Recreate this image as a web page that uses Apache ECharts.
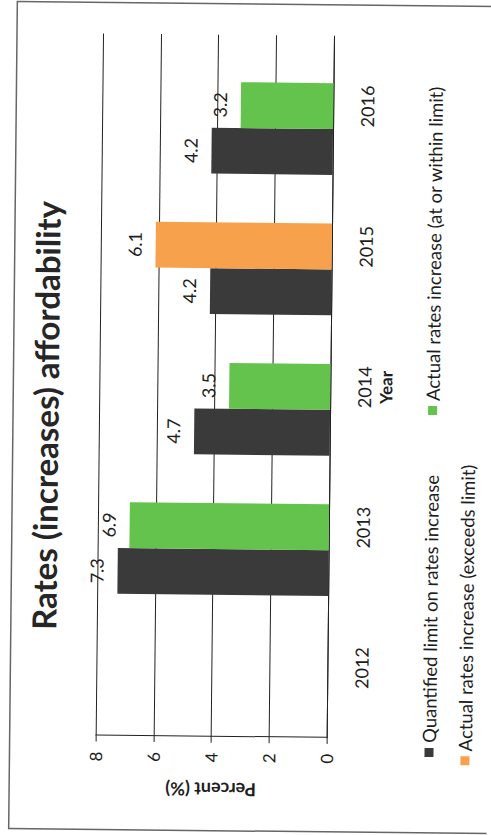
<!DOCTYPE html>
<html>
<head>
<meta charset="utf-8">
<script src="https://cdn.jsdelivr.net/npm/echarts@6/dist/echarts.min.js"></script>
<style>
  html, body { margin: 0; padding: 0; width: 491px; height: 835px; overflow: hidden; background: #fff; }
  /* The chart is laid out landscape (835 x 491) and turned to portrait. */
  #chart {
    position: absolute;
    width: 835px; height: 491px;
    left: -172px; top: 172px;
    transform-origin: 50% 50%;
    transform: rotate(-89.4deg);
  }
</style>
</head>
<body>
<div id="chart"></div>
<script>
const years = ['2012', '2013', '2014', '2015', '2016'];
const quantifiedLimit = [null, 7.3, 4.7, 4.2, 4.2];
const withinLimit = [null, 6.9, 3.5, null, 3.2];
const exceedsLimit = [null, null, null, 6.1, null];
const emptySlot = [null, null, null, null, null];
const percentMin = 0, percentMax = 8, percentStep = 2;

const seriesNames = {
  limit: 'Quantified limit on rates increase',
  within: 'Actual rates increase (at or within limit)',
  exceeds: 'Actual rates increase (exceeds limit)'
};

const FONT = 'Lato';
const INK = '#1e1e1e';

const valueLabel = {
  show: true,
  position: 'top',
  distance: 12,
  fontFamily: FONT,
  fontSize: 18,
  color: INK,
  formatter: p => p.value == null ? '' : p.value.toFixed(1)
};

const legendBase = {
  icon: 'rect',
  itemWidth: 9,
  itemHeight: 9,
  padding: 0,
  selectedMode: false,
  textStyle: { fontFamily: FONT, fontSize: 18.5, color: INK }
};

const chart = echarts.init(document.getElementById('chart'), null, { renderer: 'svg' });

chart.setOption({
  animation: false,
  backgroundColor: '#fff',
  textStyle: { fontFamily: FONT },
  title: {
    text: 'Rates (increases) affordability',
    left: 'center',
    top: 24,
    textStyle: { fontFamily: FONT, fontSize: 33, fontWeight: 'bold', color: '#262626' }
  },
  legend: [
    Object.assign({ data: [seriesNames.limit], left: 80, top: 423 }, legendBase),
    Object.assign({ data: [seriesNames.within], left: 422, top: 423 }, legendBase),
    Object.assign({ data: [seriesNames.exceeds], left: 72, top: 459 }, legendBase)
  ],
  grid: { left: 98, right: 35, top: 99, bottom: 161 },
  xAxis: {
    type: 'category',
    data: years,
    axisLine: { show: true, lineStyle: { color: '#222', width: 1 } },
    axisTick: { show: false },
    axisLabel: { margin: 25, fontFamily: FONT, fontSize: 18, color: INK },
    name: 'Year',
    nameLocation: 'middle',
    nameGap: 47,
    nameTextStyle: { fontFamily: FONT, fontSize: 17, fontWeight: 'bold', color: INK }
  },
  yAxis: {
    type: 'value',
    min: percentMin,
    max: percentMax,
    interval: percentStep,
    axisLine: { show: true, lineStyle: { color: '#222', width: 1 } },
    axisTick: { show: true, length: 6, lineStyle: { color: '#222' } },
    splitLine: { show: true, lineStyle: { color: '#222', width: 1 } },
    axisLabel: { margin: 16, fontFamily: FONT, fontSize: 17, color: INK },
    name: 'Percent (%)',
    nameLocation: 'middle',
    nameGap: 44,
    nameTextStyle: { fontFamily: FONT, fontSize: 18, fontWeight: 'bold', color: INK }
  },
  series: [
    {
      name: seriesNames.limit,
      type: 'bar',
      data: quantifiedLimit,
      barGap: '0%',
      barCategoryGap: '2%',
      itemStyle: { color: '#3a3a3a' },
      label: valueLabel
    },
    {
      name: seriesNames.within,
      type: 'bar',
      stack: 'actual',
      data: withinLimit,
      barGap: '0%',
      barCategoryGap: '2%',
      itemStyle: { color: '#63c34c' },
      label: valueLabel
    },
    {
      name: seriesNames.exceeds,
      type: 'bar',
      stack: 'actual',
      data: exceedsLimit,
      barGap: '0%',
      barCategoryGap: '2%',
      itemStyle: { color: '#f8a14d' },
      label: valueLabel
    },
    {
      // keeps a third, unused slot in each year group
      name: 'unused',
      type: 'bar',
      data: emptySlot,
      barGap: '0%',
      barCategoryGap: '2%',
      silent: true
    }
  ],
  graphic: [
    {
      type: 'rect',
      silent: true,
      shape: { x: 4, y: 13, width: 827, height: 490 },
      style: { fill: 'none', stroke: '#666', lineWidth: 1.5 }
    }
  ]
});
</script>
</body>
</html>
